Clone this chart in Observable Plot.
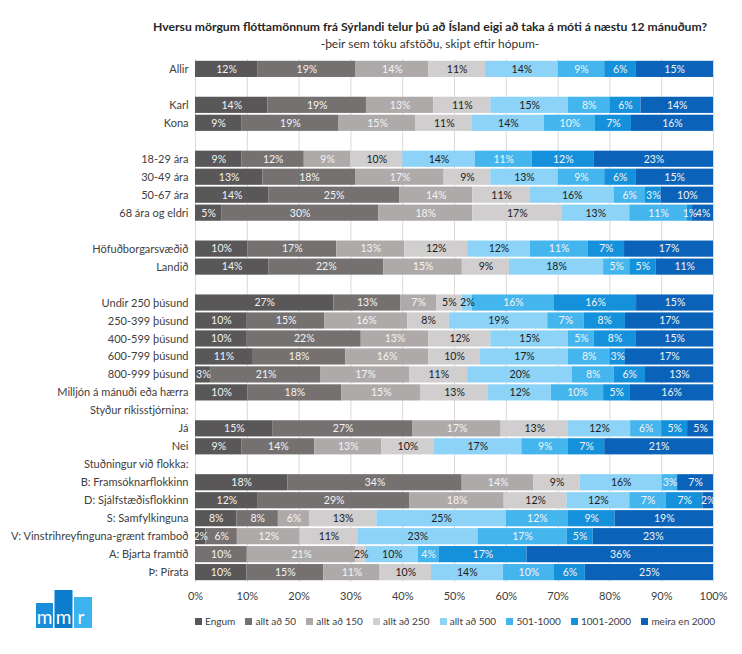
<!DOCTYPE html>
<html><head><meta charset="utf-8">
<script src="https://cdn.jsdelivr.net/npm/d3@7"></script>
<script src="https://cdn.jsdelivr.net/npm/@observablehq/plot@0.6"></script>
<style>
body{margin:0;background:#fff;font-family:Lato,"Open Sans",sans-serif;width:742px;height:654px;position:relative;overflow:hidden}
#title{padding-top:18px;padding-left:118px;text-align:center;height:34px;color:#262626}
.t1{font-weight:bold;font-size:12.2px;line-height:17px}
.t2{font-size:12px;line-height:17px;color:#333}
#chart svg{display:block}
#legend{margin-top:7px}
#legend > div{margin-left:195px !important;width:520px;justify-content:space-between;flex-wrap:nowrap !important;min-height:14px !important;font-size:10px;color:#404040;font-family:Lato,sans-serif}
#legend .lg-swatch{margin-right:0 !important;white-space:nowrap}
#legend .lg-swatch svg{margin-right:3px !important}
#logo{position:absolute;left:35px;top:589px}
</style></head><body>
<div id="title"><div class="t1">Hversu mörgum flóttamönnum frá Sýrlandi telur þú að Ísland eigi að taka á móti á næstu 12 mánuðum?</div><div class="t2">-þeir sem tóku afstöðu, skipt eftir hópum-</div></div>
<div id="chart"></div>
<div id="legend"></div>
<svg id="logo" width="60" height="42" viewBox="0 0 60 42">
  <rect x="1" y="14" width="17" height="25" fill="#1a8ed8"/>
  <rect x="19.5" y="1" width="18" height="38" fill="#0b7dcc"/>
  <rect x="39" y="8" width="18" height="31" fill="#3ab3ef"/>
  <text x="9.5" y="35" fill="#fff" font-size="19" text-anchor="middle" font-family="Lato,sans-serif">m</text>
  <text x="28.5" y="35" fill="#fff" font-size="19" text-anchor="middle" font-family="Lato,sans-serif">m</text>
  <text x="46" y="35" fill="#fff" font-size="19" text-anchor="middle" font-family="Lato,sans-serif">r</text>
</svg>
<script>
// Row slots (gap slots start with "·")
const rows = ["Allir","·1","Karl","Kona","·2","18-29 ára","30-49 ára","50-67 ára","68 ára og eldri","·3",
  "Höfuðborgarsvæðið","Landið","·4","Undir 250 þúsund","250-399 þúsund","400-599 þúsund","600-799 þúsund",
  "800-999 þúsund","Milljón á mánuði eða hærra","Styður ríkisstjórnina:","Já","Nei","Stuðningur við flokka:",
  "B: Framsóknarflokkinn","D: Sjálfstæðisflokkinn","S: Samfylkinguna","V: Vinstrihreyfinguna-grænt framboð",
  "A: Bjarta framtíð","Þ: Pírata"];
// Rows that have bars
const dataRows = ["Allir","Karl","Kona","18-29 ára","30-49 ára","50-67 ára","68 ára og eldri",
  "Höfuðborgarsvæðið","Landið","Undir 250 þúsund","250-399 þúsund","400-599 þúsund","600-799 þúsund",
  "800-999 þúsund","Milljón á mánuði eða hærra","Já","Nei","B: Framsóknarflokkinn","D: Sjálfstæðisflokkinn",
  "S: Samfylkinguna","V: Vinstrihreyfinguna-grænt framboð","A: Bjarta framtíð","Þ: Pírata"];
const series = ["Engum","allt að 50","allt að 150","allt að 250","allt að 500","501-1000","1001-2000","meira en 2000"];
const colors = ["#595757","#767171","#aeaaaa","#d0cece","#8dd3f8","#45b5ee","#1590da","#0a63b8"];
const engum   = [12,14,9,9,13,14,5,10,14,27,10,10,11,3,10,15,9,18,12,8,2,0,10];
const allt50  = [19,19,19,12,18,25,30,17,22,13,15,22,18,21,18,27,14,34,29,8,6,10,15];
const allt150 = [14,13,15,9,17,14,18,13,15,7,16,13,16,17,15,17,13,14,18,6,12,21,11];
const allt250 = [11,11,11,10,9,11,17,12,9,5,8,12,10,11,13,13,10,9,12,13,11,2,10];
const allt500 = [14,15,14,14,13,16,13,12,18,2,19,15,17,20,12,12,17,16,12,25,23,10,14];
const s501    = [9,8,10,11,9,6,11,11,5,16,7,5,8,8,10,6,9,3,7,12,17,4,10];
const s1001   = [6,6,7,12,6,3,1,7,5,16,8,8,3,6,5,5,7,0,7,9,5,17,6];
const meira   = [15,14,16,23,15,10,4,17,11,15,17,15,17,13,16,5,21,7,2,19,23,36,25];
const xTicks = [0,0.1,0.2,0.3,0.4,0.5,0.6,0.7,0.8,0.9,1];

const valueArrays = [engum, allt50, allt150, allt250, allt500, s501, s1001, meira];
const data = [];
dataRows.forEach((r, i) => series.forEach((s, j) => data.push({row: r, series: s, value: valueArrays[j][i]})));
const darkText = new Set(["allt að 250","allt að 500"]);

const chart = Plot.plot({
  width: 742, height: 555,
  marginLeft: 195, marginRight: 29, marginTop: 7, marginBottom: 25,
  style: {fontFamily: "Lato, sans-serif", fontSize: "11px", color: "#404040", background: "#fff"},
  x: {domain: [0, 1], ticks: xTicks, tickFormat: d => Math.round(d * 100) + "%", label: null, tickSize: 0, tickPadding: 10},
  y: {domain: rows, padding: 0.1, round: false, tickSize: 0, tickPadding: 7, label: null, tickFormat: d => d.startsWith("·") ? "" : d},
  color: {domain: series, range: colors},
  marks: [
    Plot.ruleX(xTicks, {stroke: "#d9d9d9"}),
    Plot.barX(data, Plot.stackX({x: "value", y: "row", fill: "series", offset: "normalize"})),
    Plot.text(data, Plot.stackX({x: "value", y: "row", offset: "normalize", fill: "#f4f4f4", fontSize: 10.5,
      text: d => (d.value > 0 && !darkText.has(d.series)) ? d.value + "%" : ""})),
    Plot.text(data, Plot.stackX({x: "value", y: "row", offset: "normalize", fill: "#1b1b1b", fontSize: 10.5,
      text: d => (d.value > 0 && darkText.has(d.series)) ? d.value + "%" : ""}))
  ]
});
document.getElementById("chart").appendChild(chart);

const legend = Plot.legend({
  color: {domain: series, range: colors},
  legend: "swatches", swatchSize: 7, className: "lg",
  style: {fontFamily: "Lato, sans-serif", fontSize: "10px"}
});
document.getElementById("legend").appendChild(legend);
</script>
</body></html>
